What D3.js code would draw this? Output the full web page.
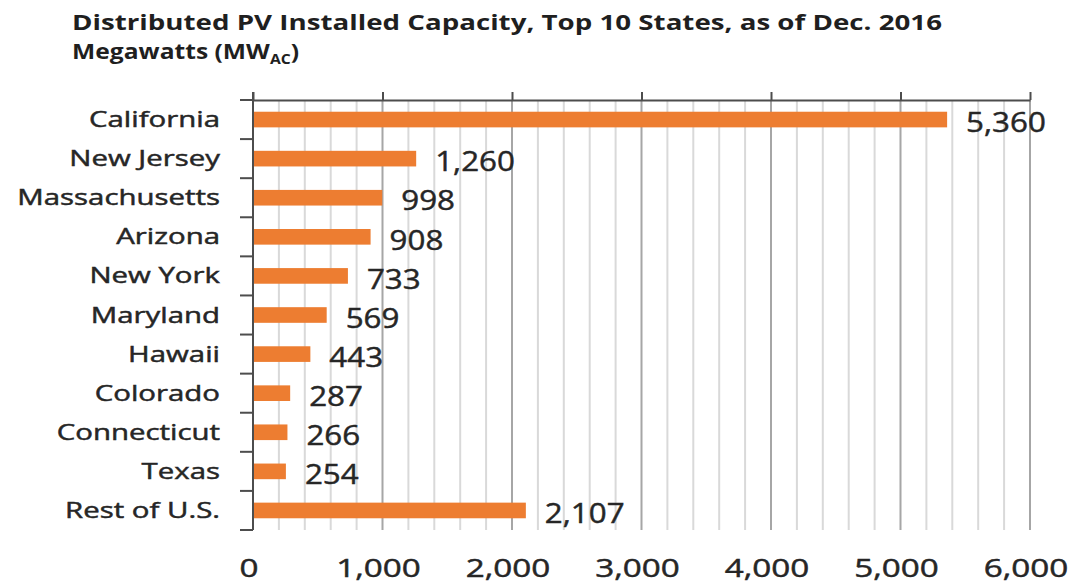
<!DOCTYPE html>
<html>
<head>
<meta charset="utf-8">
<script src="https://cdn.jsdelivr.net/npm/d3@7"></script>
<style>
  body { margin: 0; background: #ffffff; }
  text { font-family: "Open Sans", sans-serif; }
  .lbl { stroke: #262626; stroke-width: 0.45px; }
</style>
</head>
<body>
<svg id="chart" width="1078" height="585"></svg>
<script>
// Distributed PV installed capacity by state (MW AC), Dec. 2016
const states = ["California", "New Jersey", "Massachusetts", "Arizona", "New York",
  "Maryland", "Hawaii", "Colorado", "Connecticut", "Texas", "Rest of U.S."];
const capacityMW = [5360, 1260, 998, 908, 733, 569, 443, 287, 266, 254, 2107];
const axisTicks = [0, 1000, 2000, 3000, 4000, 5000, 6000];
const gridStep = 200;

const rows = states.map((s, i) => ({ state: s, value: capacityMW[i] }));

const svg = d3.select("#chart");
const plot = { left: 253, right: 1030, top: 100, bottom: 530 };

const x = d3.scaleLinear().domain([0, 6000]).range([plot.left, plot.right]);
const y = d3.scaleBand().domain(states).range([plot.top, plot.bottom])
  .paddingInner(0.6).paddingOuter(0.3);

// horizontally widened text, anchored at (tx, ty)
function placeText(sel, tx, ty, sx) {
  sel.attr("x", 0).attr("y", 0)
     .attr("transform", (d, i) => `translate(${tx(d, i)},${ty(d, i)}) scale(${sx},1)`);
}

// Title
const title = svg.append("g").attr("fill", "#1f1f1f")
  .style("font-weight", "700").style("font-size", "22px");
title.append("text").text("Distributed PV Installed Capacity, Top 10 States, as of Dec. 2016")
  .call(placeText, () => 72, () => 30, 1.26);
const t2 = title.append("text").call(placeText, () => 72, () => 59, 1.12);
t2.append("tspan").text("Megawatts (MW");
t2.append("tspan").text("AC").attr("dy", 5).style("font-size", "14px");
t2.append("tspan").text(")").attr("dy", -5);

// Gridlines every 200 MW, darker at each 1,000
const gridVals = d3.range(gridStep, 6000 + 1, gridStep);
svg.append("g").selectAll("line").data(gridVals).join("line")
  .attr("x1", d => x(d)).attr("x2", d => x(d))
  .attr("y1", plot.top).attr("y2", plot.bottom)
  .attr("stroke", d => d % 1000 === 0 ? "#a6a6a6" : "#d9d9d9")
  .attr("stroke-width", 2);

// Top axis with ticks at each 1,000
svg.append("g").attr("transform", `translate(0,${plot.top})`)
  .call(d3.axisTop(x).tickValues(axisTicks).tickSize(8).tickSizeOuter(0).tickFormat(""))
  .call(g => g.select(".domain").attr("stroke", "#4d4d4d").attr("stroke-width", 2))
  .call(g => g.selectAll(".tick line").attr("stroke", "#4d4d4d").attr("stroke-width", 2));

// Bars
svg.append("g").selectAll("rect").data(rows).join("rect")
  .attr("x", x(0))
  .attr("y", d => y(d.state))
  .attr("width", d => x(d.value) - x(0))
  .attr("height", y.bandwidth())
  .attr("fill", "#ED7D31");

// Left axis with ticks on category boundaries
const step = y.step();
const boundaries = d3.range(states.length + 1).map(i => plot.top + i * step);
const left = svg.append("g").attr("stroke", "#4d4d4d").attr("stroke-width", 2);
left.append("line").attr("x1", plot.left).attr("x2", plot.left)
  .attr("y1", plot.top - 8).attr("y2", plot.bottom);
left.selectAll("line.tick").data(boundaries).join("line").attr("class", "tick")
  .attr("x1", plot.left - 13).attr("x2", plot.left)
  .attr("y1", d => d).attr("y2", d => d);

// Category labels
svg.append("g").attr("class", "lbl").style("font-size", "21px").attr("fill", "#262626")
  .attr("text-anchor", "end")
  .selectAll("text").data(rows).join("text")
  .text(d => d.state)
  .attr("dy", "0.36em")
  .call(placeText, () => 220, d => y(d.state) + y.bandwidth() / 2, 1.4);

// Value labels
const fmt = d3.format(",");
svg.append("g").attr("class", "lbl").style("font-size", "27px").attr("fill", "#262626")
  .selectAll("text").data(rows).join("text")
  .text(d => fmt(d.value))
  .attr("dy", "0.36em")
  .call(placeText, d => x(d.value) + 19, d => y(d.state) + y.bandwidth() / 2 + 3, 1.16);

// Bottom tick labels
svg.append("g").attr("class", "lbl").style("font-size", "25px").attr("fill", "#262626")
  .attr("text-anchor", "middle")
  .selectAll("text").data(axisTicks).join("text")
  .text(d => fmt(d))
  .call(placeText, d => x(d) - 4, () => 577, 1.33);
</script>
</body>
</html>
